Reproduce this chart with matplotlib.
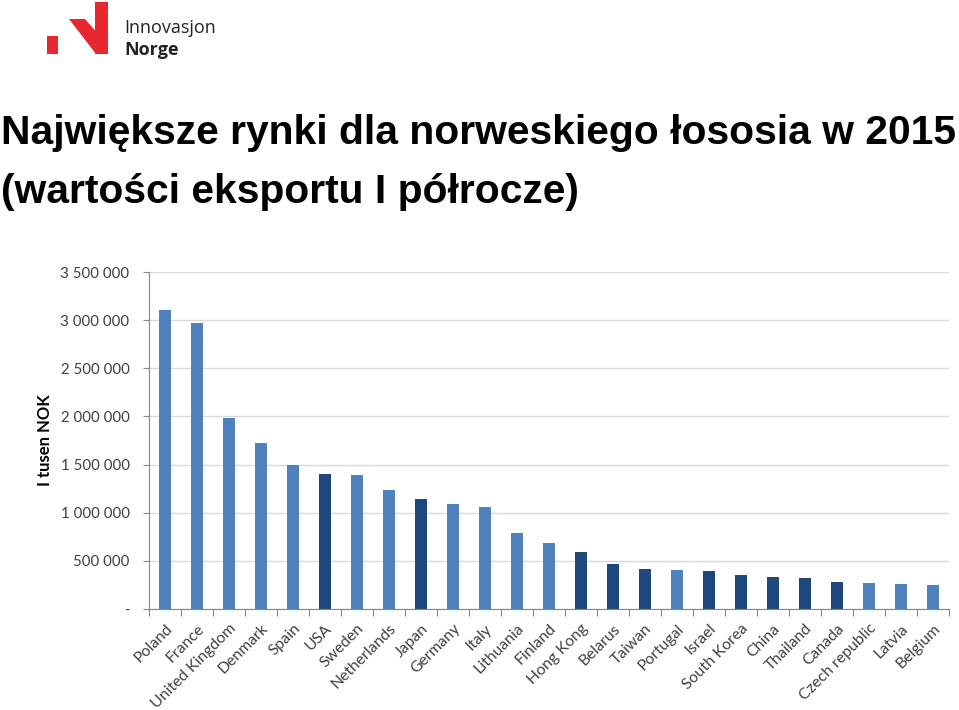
import matplotlib
matplotlib.use("Agg")
import matplotlib.pyplot as plt
from matplotlib.patches import Polygon, Rectangle
from matplotlib.ticker import FuncFormatter

countries = ["Poland", "France", "United Kingdom", "Denmark", "Spain", "USA", "Sweden",
             "Netherlands", "Japan", "Germany", "Italy", "Lithuania", "Finland", "Hong Kong",
             "Belarus", "Taiwan", "Portugal", "Israel", "South Korea", "China", "Thailand",
             "Canada", "Czech republic", "Latvia", "Belgium"]
values = [3105000, 2969000, 1980000, 1728000, 1495000, 1405000, 1394000,
          1238000, 1147000, 1087000, 1055000, 793000, 682000, 588000,
          472000, 412000, 405000, 395000, 350000, 331000, 322000,
          281000, 266000, 256000, 246000]
outside_eu = [False, False, False, False, False, True, False,
              False, True, False, False, False, False, True,
              True, True, False, True, True, True, True,
              True, False, False, False]
yticks = [0, 500000, 1000000, 1500000, 2000000, 2500000, 3000000, 3500000]

LIGHT = "#4F81BD"
DARK = "#1F497D"

W, H = 959, 710
fig = plt.figure(figsize=(W / 100, H / 100), dpi=100)
fig.patch.set_facecolor("white")

def fx(px):
    return px / W

def fy(py):
    return 1 - py / H

# Logo
logo_red = "#E8282E"
fig.patches.append(Rectangle((fx(47), fy(54)), fx(58) - fx(47), fy(36) - fy(54),
                             transform=fig.transFigure, color=logo_red, lw=0))
fig.patches.append(Rectangle((fx(95), fy(54)), fx(108) - fx(95), fy(2) - fy(54),
                             transform=fig.transFigure, color=logo_red, lw=0))
poly = [(69, 19), (85, 19), (107, 44), (107, 54), (96, 54)]
fig.patches.append(Polygon([(fx(x), fy(y)) for x, y in poly], closed=True,
                           transform=fig.transFigure, color=logo_red, lw=0))
fig.text(fx(124), fy(33), "Innovasjon", fontsize=13, color="#222222",
         family="Open Sans", ha="left", va="baseline")
fig.text(fx(124), fy(55), "Norge", fontsize=13, color="#222222", weight="bold",
         family="Open Sans", ha="left", va="baseline")

# Title
fig.text(fx(1), fy(144), "Największe rynki dla norweskiego łososia w 2015",
         fontsize=29.3, weight="bold", family="Liberation Sans", ha="left", va="baseline")
fig.text(fx(1), fy(203), "(wartości eksportu I półrocze)",
         fontsize=29.3, weight="bold", family="Liberation Sans", ha="left", va="baseline")

# Axes
ax = fig.add_axes([fx(149), fy(609), fx(949) - fx(149), fy(272) - fy(609)])
x = list(range(len(countries)))
colors = [DARK if o else LIGHT for o in outside_eu]
ax.bar(x, values, width=0.4, color=colors, zorder=3)
ax.set_xlim(-0.5, len(countries) - 0.5)
ax.set_ylim(0, 3500000)
ax.set_yticks(yticks)
ax.yaxis.set_major_formatter(FuncFormatter(
    lambda v, p: "-" if v == 0 else f"{int(v):,}".replace(",", " ")))
ax.grid(axis="y", color="#D9D9D9", lw=1, zorder=0)
for s in ["top", "right"]:
    ax.spines[s].set_visible(False)
for s in ["left", "bottom"]:
    ax.spines[s].set_color("#868686")
ax.set_xticks([i - 0.5 for i in range(len(countries) + 1)], minor=False)
ax.set_xticklabels([])
ax.set_xticks(x, minor=True)
ax.set_xticklabels(countries, minor=True, rotation=45, ha="right", va="top",
                   rotation_mode="anchor", fontsize=11.3, family="Lato", color="#404040")
ax.tick_params(axis="x", which="minor", length=0, pad=9)
ax.tick_params(axis="x", which="major", length=5, color="#868686")
ax.tick_params(axis="y", length=4, color="#868686", pad=10, labelsize=10.8,
               labelcolor="#404040")
for lab in ax.get_yticklabels():
    lab.set_family("Lato")

fig.text(fx(45), fy(440), "I tusen NOK", rotation=90, fontsize=12, weight="bold",
         family="Lato", ha="center", va="center", color="#000000")

fig.savefig("out.png", dpi=100, facecolor="white")
